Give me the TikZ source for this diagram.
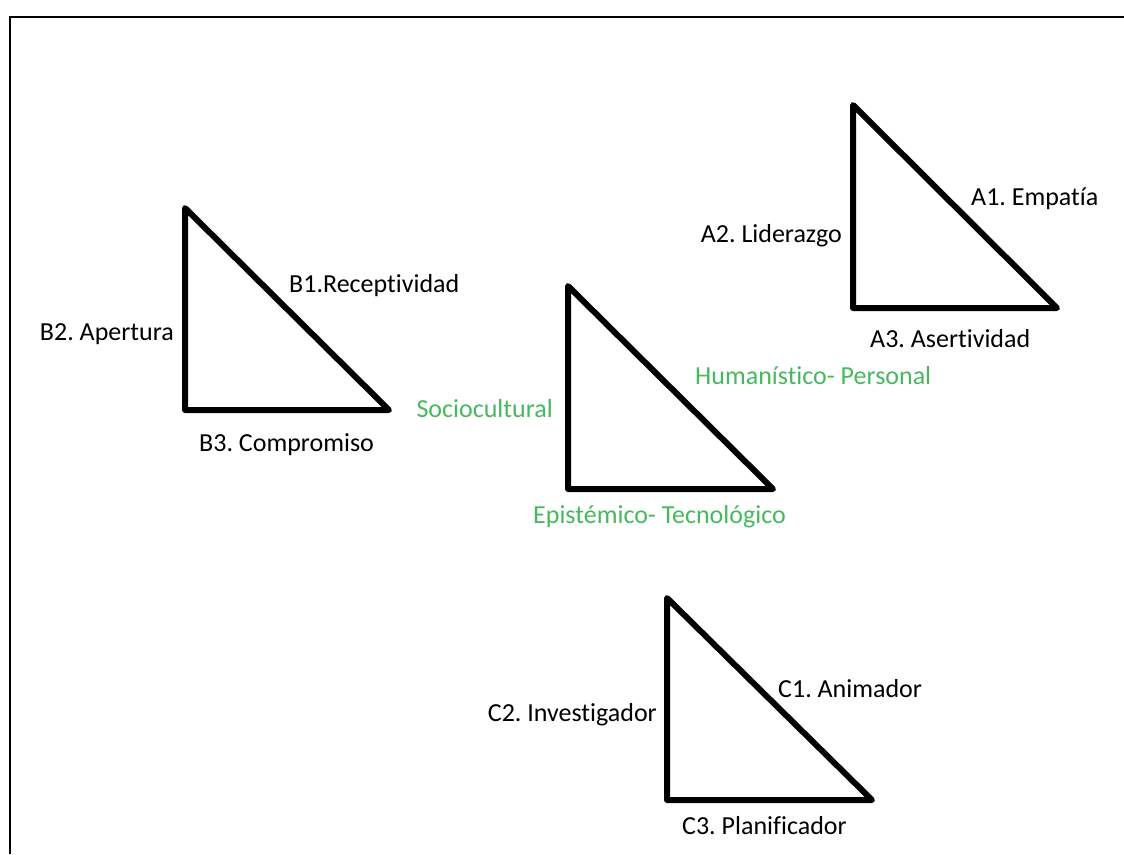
\documentclass[tikz,border=0pt]{standalone}
\usepackage{fontspec}
\setmainfont{Carlito}[Ligatures=NoCommon]
\definecolor{labelgreen}{RGB}{70,185,95}
\frenchspacing

\begin{document}
\begin{tikzpicture}[x=1pt, y=-1pt,
    every node/.style={font=\fontsize{26}{30}\selectfont, inner sep=0pt},
    tri/.style={line width=6pt, line join=round, line cap=round},
    green label/.style={text=labelgreen}]

    \useasboundingbox (0,0) rectangle (1124,854);

    % frame
    \draw[line width=2pt] (9.5,854) -- (9.5,17) -- (1124,17);

    % Triangle A
    \draw[tri] (853,105) -- (853,308) -- (1057,308) -- cycle;
    \node[anchor=west] (a1) at (971,199) {A1. Empatía};
    \node[anchor=east] (a2) at (842,236) {A2. Liderazgo};
    \node[anchor=west] (a3) at (870,339) {A3. Asertividad};

    % Triangle B
    \draw[tri] (185,208) -- (185,410) -- (389,410) -- cycle;
    \node[anchor=west] (b1) at (289,286) {B1.Receptividad};
    \node[anchor=east] (b2) at (174,334) {B2. Apertura};
    \node[anchor=west] (b3) at (199,445) {B3. Compromiso};

    % Triangle centre
    \draw[tri] (568,286) -- (568,489) -- (773,489) -- cycle;
    \node[green label, anchor=west] (hp) at (695,376) {Humanístico- Personal};
    \node[green label, anchor=east] (sc) at (553,409) {Sociocultural};
    \node[green label, anchor=west] (et) at (533,517) {Epistémico- Tecnológico};

    % Triangle C
    \draw[tri] (667,598) -- (667,800) -- (872,800) -- cycle;
    \node[anchor=west] (c1) at (778,689) {C1. Animador};
    \node[anchor=east] (c2) at (657,715) {C2. Investigador};
    \node[anchor=west] (c3) at (682,826) {C3. Planificador};

\end{tikzpicture}
\end{document}
